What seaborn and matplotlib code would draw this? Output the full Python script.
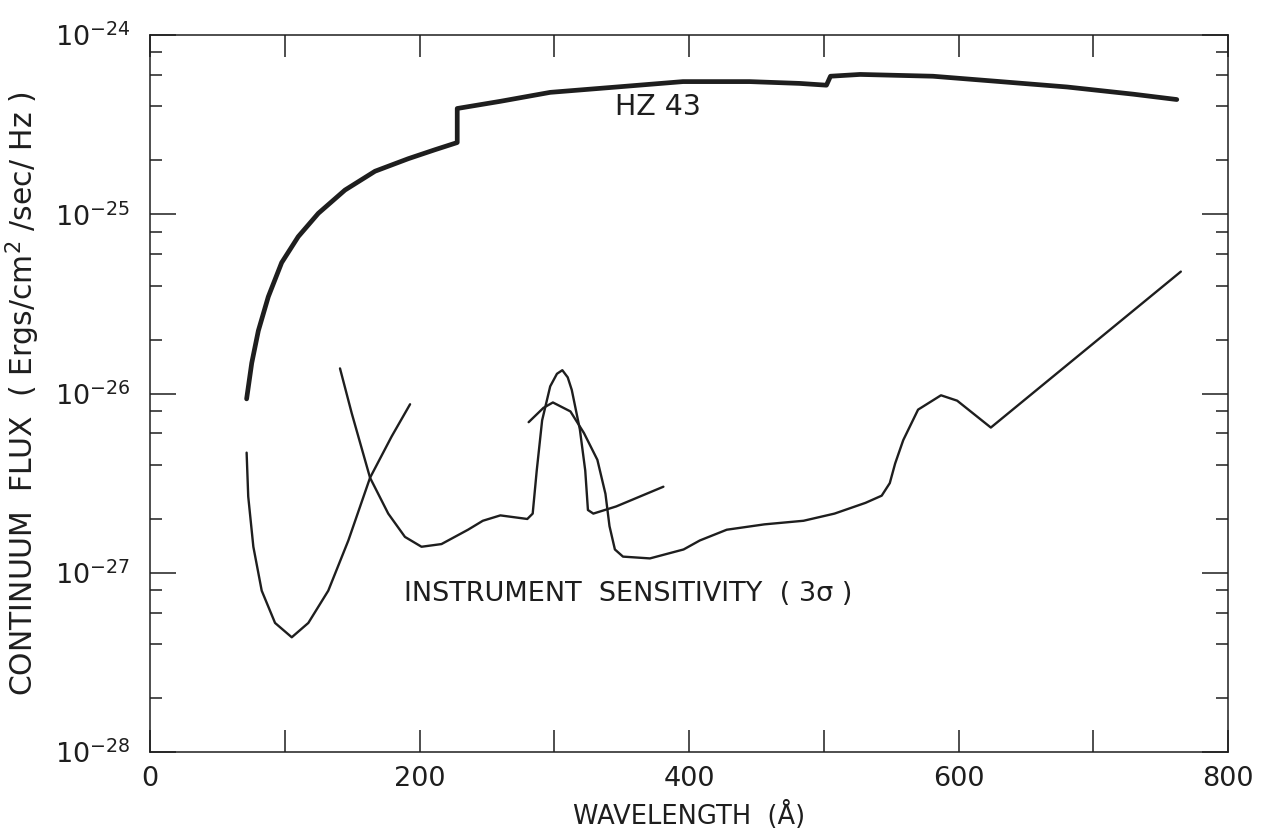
import numpy as np
import pandas as pd
import matplotlib
matplotlib.use("Agg")
import matplotlib.pyplot as plt
import seaborn as sns

# HZ 43 continuum (wavelength in Angstrom, log10 flux)
hz43_wave = [71.7, 75.5, 80.4, 87.8, 97.7, 110, 124.9, 144.7, 167, 191.7, 211.5, 228,
             228, 260, 297, 346.5, 395.5, 445, 482, 502,
             505, 527, 581, 631, 680.5, 729.5, 762]
hz43_logf = [-26.03, -25.83, -25.65, -25.46, -25.27, -25.125, -24.995, -24.865, -24.76, -24.69, -24.64, -24.60,
             -24.41, -24.37, -24.32, -24.29, -24.26, -24.26, -24.27, -24.28,
             -24.23, -24.22, -24.23, -24.26, -24.29, -24.33, -24.36]

# instrument sensitivity (3 sigma), three filter segments
sensA_wave = [71.7, 72.9, 76.7, 82.9, 92.8, 105.2, 117.5, 132.3, 147.2, 163.3, 179.3, 193]
sensA_logf = [-26.33, -26.575, -26.855, -27.10, -27.28, -27.36, -27.28, -27.10, -26.82, -26.47, -26.24, -26.06]

sensB_wave = [141, 149.7, 163.3, 176.8, 189.2, 201.5, 216.3, 236, 247, 260, 280, 284, 287, 291,
              297, 302, 306, 310, 313, 319, 323, 325, 329, 346, 381]
sensB_logf = [-25.86, -26.11, -26.47, -26.67, -26.80, -26.855, -26.84, -26.76, -26.71, -26.68, -26.70, -26.67, -26.43, -26.15,
              -25.96, -25.89, -25.87, -25.91, -25.98, -26.20, -26.43, -26.65, -26.67, -26.63, -26.52]

sensC_wave = [281, 292, 299, 312, 322, 332, 338, 341, 345, 351, 371, 396, 408, 428, 456, 485, 508,
              531, 543, 549, 553, 559, 570, 587, 599, 624, 765]
sensC_logf = [-26.16, -26.08, -26.05, -26.10, -26.22, -26.37, -26.56, -26.74, -26.87, -26.91, -26.92, -26.87, -26.82, -26.76, -26.73, -26.71, -26.67,
              -26.61, -26.57, -26.50, -26.39, -26.26, -26.09, -26.01, -26.04, -26.19, -25.32]

x_ticks = list(range(0, 801, 100))
x_ticklabels = ["0", "", "200", "", "400", "", "600", "", "800"]
y_decades = [-28, -27, -26, -25, -24]

sns.set_theme(style="ticks")
plt.rcParams["font.family"] = ["DejaVu Sans"]
plt.rcParams["mathtext.fontset"] = "dejavusans"

ink = "#1e1e1e"

fig = plt.figure(figsize=(12.71, 8.38), dpi=100)
ax = fig.add_axes([150 / 1271, 1 - 752 / 838, (1228 - 150) / 1271, (752 - 35) / 838])

def frame(wave, logf):
    return pd.DataFrame({"wave": wave, "flux": 10.0 ** np.array(logf)})

sns.lineplot(data=frame(hz43_wave, hz43_logf), x="wave", y="flux", ax=ax,
             estimator=None, sort=False, color=ink, linewidth=3.4)
for w, f in [(sensA_wave, sensA_logf), (sensB_wave, sensB_logf), (sensC_wave, sensC_logf)]:
    sns.lineplot(data=frame(w, f), x="wave", y="flux", ax=ax,
                 estimator=None, sort=False, color=ink, linewidth=1.7)

ax.set_yscale("log")
ax.set_xlim(0, 800)
ax.set_ylim(1e-28, 1e-24)

ax.set_xticks(x_ticks)
ax.set_xticklabels(x_ticklabels)
ax.set_yticks([10.0 ** d for d in y_decades])
ax.set_yticklabels([rf"$10^{{{d}}}$" for d in y_decades])
minor = [m * 10.0 ** d for d in y_decades[:-1] for m in (2, 4, 6, 8)]
ax.set_yticks(minor, minor=True)
ax.set_yticklabels([], minor=True)
ax.xaxis.set_minor_locator(matplotlib.ticker.NullLocator())

ax.tick_params(axis="both", which="both", direction="in", top=True, right=True,
               colors=ink, width=1.1, labelsize=19.5)
ax.tick_params(axis="x", which="major", length=16, pad=10)
ax.tick_params(axis="y", which="major", length=19, pad=14)
ax.tick_params(axis="y", which="minor", length=8.5)
for s in ax.spines.values():
    s.set_color(ink)
    s.set_linewidth(1.1)

ax.set_xlabel("WAVELENGTH  (Å)", fontsize=18.5, color=ink)
ax.set_ylabel("CONTINUUM  FLUX  ( Ergs/cm$^2$ /sec/ Hz )", fontsize=21.5, color=ink)
ax.xaxis.set_label_coords(0.5, -0.068)
ax.yaxis.set_label_coords(-0.1, 0.5)

ax.text(377, 10 ** -24.40, "HZ 43", fontsize=20.5, color=ink, ha="center", va="center")
ax.text(355, 10 ** -27.12, "INSTRUMENT  SENSITIVITY  ( 3σ )", fontsize=19.5, color=ink,
        ha="center", va="center")

fig.savefig("out.png", dpi=100, facecolor="white")
